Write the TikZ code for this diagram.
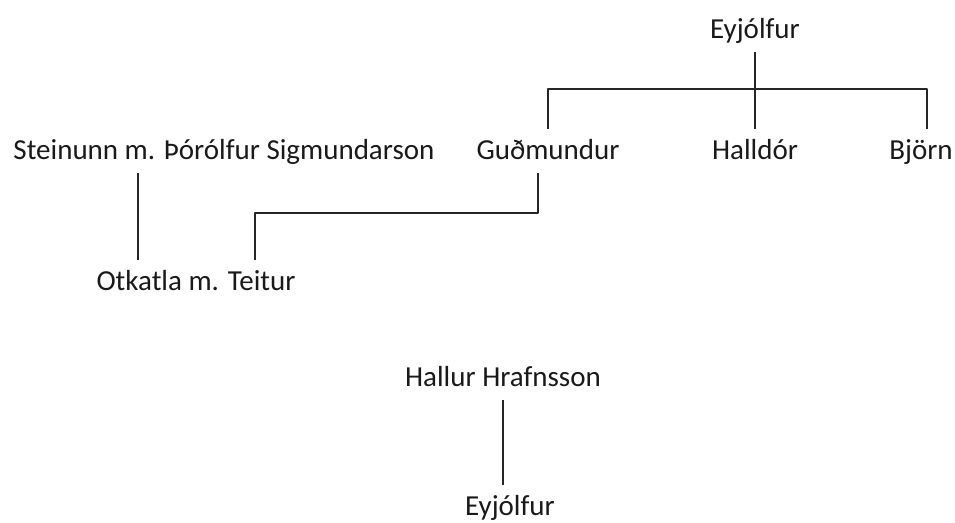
\documentclass[tikz,border=0pt]{standalone}
\usepackage{fontspec}
\setmainfont{Carlito}
\usepackage{tikz}

\begin{document}
\begin{tikzpicture}[x=1pt, y=-1pt, line join=bevel]
	\pgfsetcolor{black}

	\tikzstyle{person} = [anchor=base, inner xsep=2pt, inner ysep=8pt, text height=22pt, text depth=6pt, font=\fontsize{29}{33}\selectfont, text=black!90];
	\tikzstyle{link} = [draw, line width=1.1pt, black!85];

	\useasboundingbox (0,0) rectangle (955,522);

	\node[person] at (755,38) (eyj) {Eyjólfur};
	\node[person] at (548,159) (gud) {Guðmundur};
	\node[person] at (755,159) (hall) {Halldór};
	\node[person] at (921,159) (bjorn) {Björn};
	\node[person] at (224,159) (stein) {Steinunn m. Þórólfur Sigmundarson};
	\node[person] at (196,290) (otk) {Otkatla m. Teitur};
	\node[person] at (503,386) (hallur) {Hallur Hrafnsson};
	\node[person] at (510,515) (eyjb) {Eyjólfur};

	\coordinate (bar) at (755,89);
	\coordinate (knee) at (255,213);

	\draw[link] (eyj.south) -- (hall.north);
	\draw[link] (gud.north) |- (bar) -| ([xshift=6pt]bjorn.north);
	\draw[link] ([xshift=-10pt]gud.south) |- (knee) -- (knee |- otk.north);
	\draw[link] ([xshift=-86pt]stein.south) -- ([xshift=-86pt]stein.south |- otk.north);
	\draw[link] (hallur.south) -- (hallur.south |- eyjb.north);
\end{tikzpicture}
\end{document}
